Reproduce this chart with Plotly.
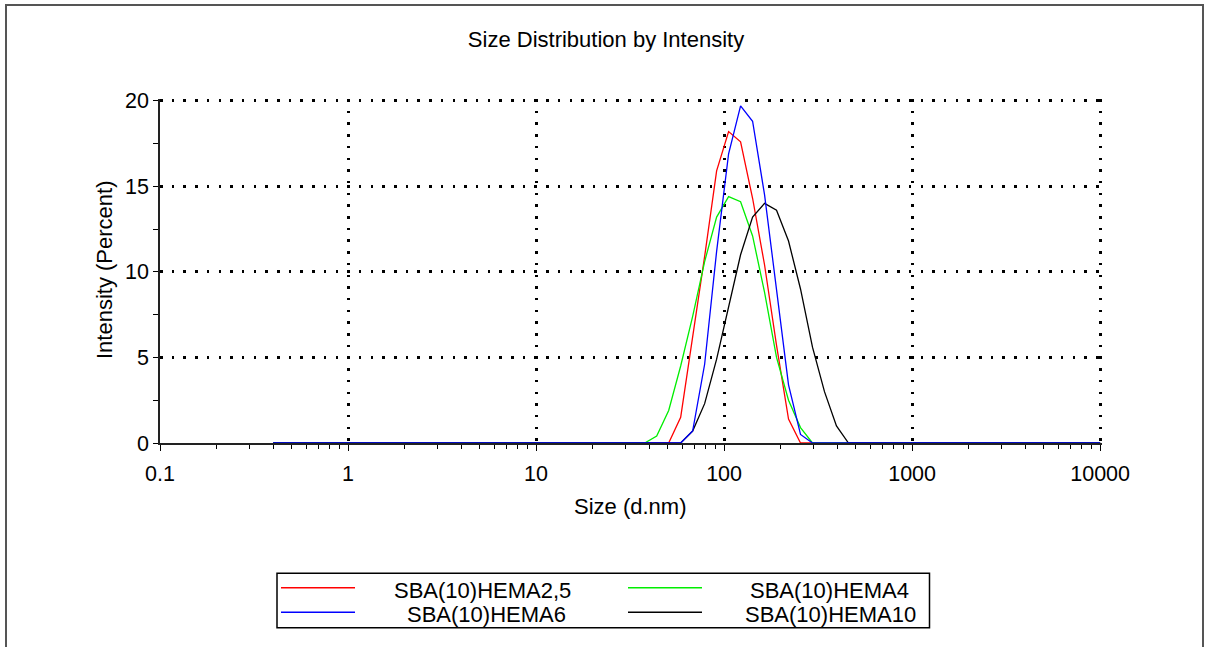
import plotly.graph_objects as go

# ---- data ----
sizes_nm = [0.4, 0.4632, 0.5365, 0.6213, 0.7195, 0.8332, 0.9649, 1.117, 1.294, 1.499,
            1.736, 2.010, 2.328, 2.696, 3.122, 3.615, 4.187, 4.849, 5.615, 6.503,
            7.531, 8.721, 10.10, 11.70, 13.54, 15.69, 18.17, 21.04, 24.36, 28.21,
            32.67, 37.84, 43.82, 50.75, 58.77, 68.06, 78.82, 91.28, 105.7, 122.4,
            141.8, 164.2, 190.1, 220.2, 255.0, 295.3, 342.0, 396.1, 458.7, 531.2,
            615.1, 712.4, 825.0, 955.4, 1106, 1281, 1484, 1718, 1990, 2305,
            2669, 3091, 3580, 4145, 4801, 5560, 6439, 7456, 8635, 10000]

hema2_5 = [0, 0, 0, 0, 0, 0, 0, 0, 0, 0,
           0, 0, 0, 0, 0, 0, 0, 0, 0, 0,
           0, 0, 0, 0, 0, 0, 0, 0, 0, 0,
           0, 0, 0, 0, 1.5, 6.2, 10.9, 15.9, 18.2, 17.6,
           14.3, 10.4, 5.7, 1.4, 0, 0, 0, 0, 0, 0,
           0, 0, 0, 0, 0, 0, 0, 0, 0, 0,
           0, 0, 0, 0, 0, 0, 0, 0, 0, 0]

hema4 = [0, 0, 0, 0, 0, 0, 0, 0, 0, 0,
         0, 0, 0, 0, 0, 0, 0, 0, 0, 0,
         0, 0, 0, 0, 0, 0, 0, 0, 0, 0,
         0, 0, 0.4, 1.9, 4.5, 7.4, 10.6, 13.2, 14.4, 14.1,
         12.1, 8.8, 5.0, 2.5, 0.9, 0, 0, 0, 0, 0,
         0, 0, 0, 0, 0, 0, 0, 0, 0, 0,
         0, 0, 0, 0, 0, 0, 0, 0, 0, 0]

hema6 = [0, 0, 0, 0, 0, 0, 0, 0, 0, 0,
         0, 0, 0, 0, 0, 0, 0, 0, 0, 0,
         0, 0, 0, 0, 0, 0, 0, 0, 0, 0,
         0, 0, 0, 0, 0, 0.7, 4.6, 11.2, 16.9, 19.7,
         18.8, 14.5, 8.9, 3.4, 0.5, 0, 0, 0, 0, 0,
         0, 0, 0, 0, 0, 0, 0, 0, 0, 0,
         0, 0, 0, 0, 0, 0, 0, 0, 0, 0]

hema10 = [0, 0, 0, 0, 0, 0, 0, 0, 0, 0,
          0, 0, 0, 0, 0, 0, 0, 0, 0, 0,
          0, 0, 0, 0, 0, 0, 0, 0, 0, 0,
          0, 0, 0, 0, 0, 0.7, 2.3, 4.9, 8.0, 11.0,
          13.2, 14.0, 13.6, 11.8, 9.0, 5.6, 3.0, 1.0, 0, 0,
          0, 0, 0, 0, 0, 0, 0, 0, 0, 0,
          0, 0, 0, 0, 0, 0, 0, 0, 0, 0]

series_names = ["SBA(10)HEMA2,5", "SBA(10)HEMA4", "SBA(10)HEMA6", "SBA(10)HEMA10"]
series_values = [hema2_5, hema4, hema6, hema10]
series_colors = ["#ff0000", "#00ee00", "#0000ff", "#000000"]

x_tick_vals = [0.1, 1, 10, 100, 1000, 10000]
x_tick_text = ["0.1", "1", "10", "100", "1000", "10000"]
y_tick_vals = [0, 5, 10, 15, 20]

# ---- layout geometry (pixels) ----
W, H = 1205, 647
L, R, T, B = 160, 103, 99, 204
PW, PH = W - L - R, H - T - B
X_RANGE = [-1, 4.01]
Y_RANGE = [0, 20.1]


def px(xpix):
    return (xpix - L) / PW


def py(ypix):
    return (H - B - ypix) / PH


FONT = "Liberation Sans, Arial, sans-serif"
FS = 22

fig = go.Figure()
draw_order = [0, 1, 3, 2]
for i in draw_order:
    fig.add_trace(go.Scatter(
        x=sizes_nm, y=series_values[i], mode="lines", name=series_names[i],
        line=dict(color=series_colors[i], width=1.3), showlegend=False,
        hoverinfo="x+y+name"))

grid_common = dict(showgrid=True, gridcolor="#000000", gridwidth=2.5,
                   griddash="2.5px,9.2px")

fig.update_layout(
    width=W, height=H, autosize=False,
    margin=dict(l=L, r=R, t=T, b=B, pad=0),
    paper_bgcolor="white", plot_bgcolor="white",
    font=dict(family=FONT, size=FS, color="#000000"),
    title=dict(text="Size Distribution by Intensity", x=606 / W, xref="container",
               xanchor="center", y=1 - 39 / H, yref="container", yanchor="middle",
               font=dict(family=FONT, size=FS, color="#000000")),
    xaxis=dict(type="log", range=X_RANGE, tickmode="array", tickvals=x_tick_vals,
               ticktext=x_tick_text, ticks="outside", ticklen=6, tickwidth=1.2,
               tickcolor="#000000", showline=True, linecolor="#222222", linewidth=1.5,
               zeroline=False, ticklabelstandoff=4,
               minor=dict(dtick="D1", ticks="outside", ticklen=4, tickwidth=1,
                          tickcolor="#000000", showgrid=False),
               tickfont=dict(family=FONT, size=21.5, color="#000000"),
               **grid_common),
    yaxis=dict(range=Y_RANGE, tickmode="array", tickvals=y_tick_vals,
               ticks="outside", ticklen=5, tickwidth=1.2, tickcolor="#000000",
               showline=True, linecolor="#222222", linewidth=1.5, zeroline=False,
               minor=dict(dtick=2.5, ticks="outside", ticklen=5, tickwidth=1,
                          tickcolor="#000000", showgrid=False),
               tickfont=dict(family=FONT, size=21.5, color="#000000"),
               **grid_common),
)

annotations = [
    dict(text="Size (d.nm)", x=px(630), y=py(507), xref="paper", yref="paper",
         xanchor="center", yanchor="middle", showarrow=False,
         font=dict(family=FONT, size=FS, color="#000000")),
    dict(text="Intensity (Percent)", x=px(104), y=py(270), xref="paper", yref="paper",
         xanchor="center", yanchor="middle", textangle=-90, showarrow=False,
         font=dict(family=FONT, size=FS, color="#000000")),
]

shapes = [
    # outer frame
    dict(type="rect", xref="paper", yref="paper", x0=px(6), x1=px(1203),
         y0=py(680), y1=py(5), line=dict(color="#555555", width=2),
         fillcolor="rgba(0,0,0,0)", layer="above"),
    # legend box
    dict(type="rect", xref="paper", yref="paper", x0=px(277), x1=px(929.5),
         y0=py(627.7), y1=py(573.3), line=dict(color="#000000", width=1.5),
         fillcolor="rgba(0,0,0,0)", layer="above"),
]

# custom legend (2 columns, row-major)
legend_line_x = [(281, 355), (628, 702), (281, 355), (628, 702)]
legend_row_y = [587.7, 587.7, 612.3, 612.3]
legend_text_x = [482, 829, 486, 830]
legend_text_y = [590, 590, 614, 614]
for i in range(4):
    x0, x1 = legend_line_x[i]
    shapes.append(dict(type="line", xref="paper", yref="paper",
                       x0=px(x0), x1=px(x1), y0=py(legend_row_y[i]), y1=py(legend_row_y[i]),
                       line=dict(color=series_colors[i], width=1.6)))
    annotations.append(dict(text=series_names[i], x=px(legend_text_x[i]),
                            y=py(legend_text_y[i]), xref="paper", yref="paper",
                            xanchor="center", yanchor="middle", showarrow=False,
                            font=dict(family=FONT, size=FS, color="#000000")))

fig.update_layout(annotations=annotations, shapes=shapes)

fig.write_html("out.html")
